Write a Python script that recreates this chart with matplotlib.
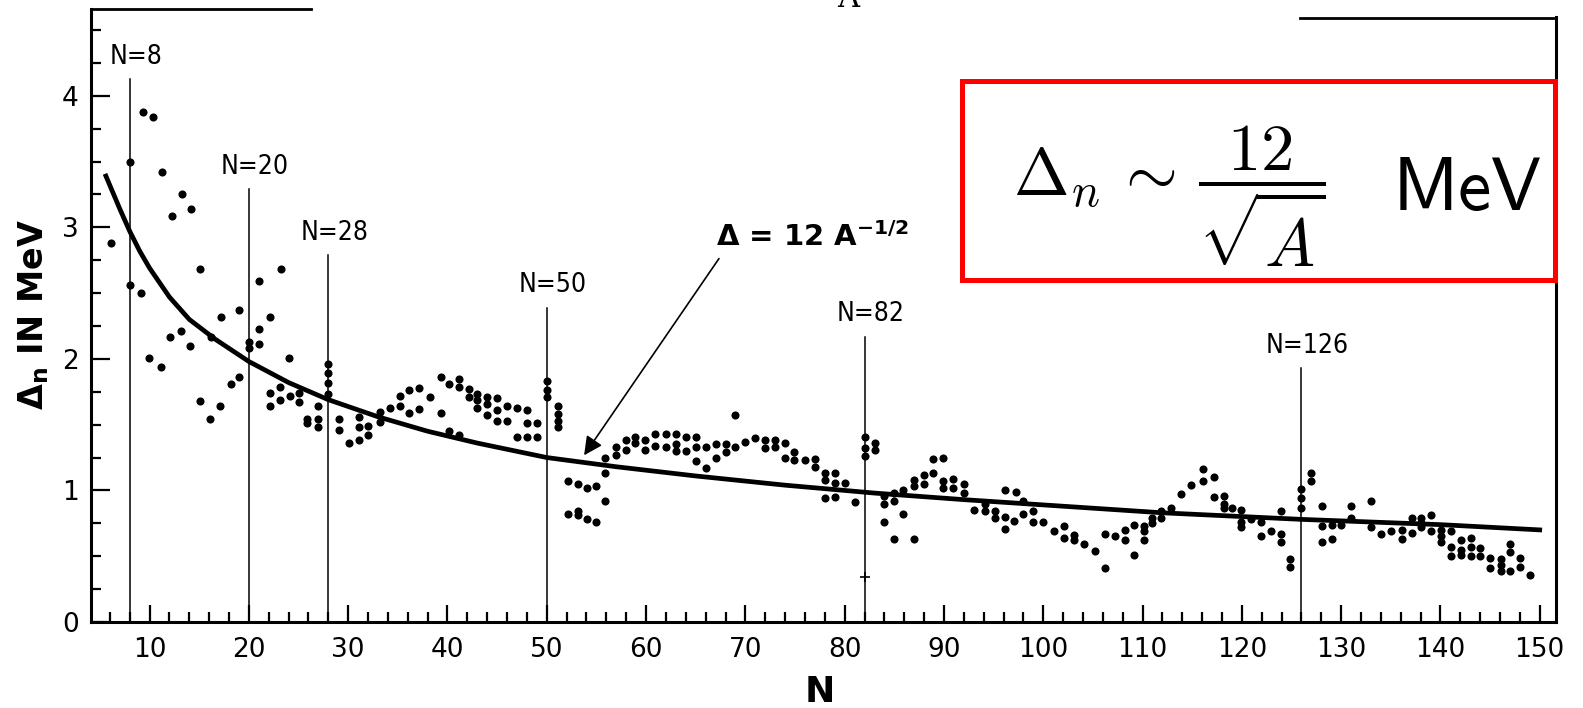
import matplotlib
matplotlib.use("Agg")
import matplotlib.pyplot as plt
from matplotlib.patches import Rectangle
from matplotlib.ticker import MultipleLocator

# neutron pairing gaps, split in three N ranges
n_light = [6.1, 8, 8, 9.1, 9.3, 9.9, 10.3, 11.1, 11.2, 12.1, 12.3, 13.2, 13.3, 14.1, 14.2,
           15.1, 15.1, 16.1, 16.2, 17.1, 17.2, 18.2, 19, 19, 20, 20, 21, 21, 21,
           22.1, 22.1, 22.1, 23.1, 23.1, 23.2, 24, 24.1, 25, 25, 25.9, 25.9, 27, 27, 27,
           28, 28, 28, 28, 29.1, 29.1, 30.1, 31.1, 31.1, 31.1, 32, 32, 33.2, 33.2, 34.2,
           35.2, 35.2, 36.1, 36.1, 37.1, 37.1, 38.2, 39.3, 39.3, 40.2, 40.2, 41.2, 41.2, 41.2,
           42.2, 42.2, 43, 43, 43, 44, 44, 44, 45, 45, 45, 46, 46, 47, 47, 48, 48, 48,
           49, 49, 50, 50, 50, 51.1, 51.1, 51.1, 51.1]
gap_light = [2.88, 3.50, 2.56, 2.50, 3.88, 2.01, 3.84, 1.94, 3.42, 2.17, 3.09, 2.21, 3.25, 2.10, 3.14,
             2.68, 1.68, 1.54, 2.17, 1.64, 2.32, 1.81, 2.37, 1.86, 2.13, 2.08, 2.59, 2.23, 2.11,
             2.32, 1.74, 1.64, 1.79, 1.69, 2.68, 2.01, 1.72, 1.74, 1.67, 1.54, 1.51, 1.64, 1.54, 1.48,
             1.96, 1.89, 1.82, 1.73, 1.54, 1.46, 1.36, 1.56, 1.48, 1.38, 1.49, 1.42, 1.60, 1.52, 1.63,
             1.72, 1.64, 1.76, 1.59, 1.78, 1.62, 1.71, 1.86, 1.59, 1.81, 1.45, 1.85, 1.79, 1.42,
             1.77, 1.71, 1.73, 1.69, 1.63, 1.71, 1.66, 1.57, 1.70, 1.61, 1.53, 1.64, 1.53, 1.63, 1.41,
             1.61, 1.51, 1.41, 1.51, 1.41, 1.83, 1.76, 1.71, 1.64, 1.58, 1.53, 1.48]

n_mid = [52.1, 52.1, 53.1, 53.1, 53.1, 54.1, 54.1, 55, 55, 55.9, 55.9, 55.9,
         57, 57, 58, 58, 58.9, 58.9, 59.9, 59.9, 60.9, 60.9, 62, 62, 63, 63, 63, 64, 64,
         65, 65, 65, 66, 66, 67, 67, 68, 68, 69, 69, 70, 71, 72, 72, 73, 73, 74, 74,
         74.9, 74.9, 76, 77, 77, 78, 78, 78, 79, 79, 79, 80, 81, 82, 82, 82,
         83.1, 83.1, 84, 84, 84, 85, 85, 85]
gap_mid = [1.07, 0.82, 1.05, 0.84, 0.81, 1.02, 0.78, 1.03, 0.76, 1.25, 1.13, 0.92,
           1.33, 1.27, 1.38, 1.31, 1.41, 1.36, 1.38, 1.31, 1.43, 1.34, 1.43, 1.33, 1.43, 1.35, 1.30, 1.41, 1.30,
           1.41, 1.33, 1.22, 1.33, 1.17, 1.35, 1.25, 1.35, 1.29, 1.57, 1.33, 1.37, 1.40, 1.38, 1.32, 1.38, 1.33, 1.36, 1.25,
           1.29, 1.23, 1.23, 1.24, 1.18, 1.13, 1.08, 0.94, 1.13, 1.06, 0.95, 1.06, 0.91, 1.41, 1.32, 1.26,
           1.36, 1.31, 0.96, 0.90, 0.76, 0.98, 0.92, 0.63]

n_heavy = [85.9, 85.9, 87, 87, 87, 88, 88, 88.9, 88.9, 89.9, 89.9, 89.9, 90.9, 90.9, 92, 92, 93,
           94.1, 94.1, 95.1, 95.1, 96.1, 96.1, 96.1, 97.3, 97.1, 98, 98, 99, 99, 100, 101.1,
           102.1, 102.1, 103.1, 103.1, 104.1, 105.2, 106.2, 106.2, 107.2, 108.2, 108.2, 109.1, 109.1,
           110.1, 110.1, 110.1, 111, 111, 111.9, 111.9, 112.9, 113.9, 114.9, 116.1, 116.1, 117.2, 117.2,
           118.2, 118.2, 118.2, 119, 119.9, 119.9, 119.9, 120.9, 121.9, 121.9, 122.9, 123.9, 123.9, 123.9,
           124.9, 124.9, 126, 126, 126, 127, 127, 128.1, 128.1, 128.1, 129.1, 129.1, 130, 131, 131,
           133, 133, 134, 135, 136.1, 136.1, 137.1, 137.1, 138, 138, 138, 139.1, 139.1,
           140.1, 140.1, 140.1, 141.1, 141.1, 141.1, 142.1, 142.1, 142.1, 143.1, 143.1, 143.1,
           144, 144, 145, 145, 146.1, 146.1, 146.1, 147, 147, 147, 148, 148, 149]
gap_heavy = [1.00, 0.82, 0.63, 1.08, 1.03, 1.12, 1.05, 1.24, 1.13, 1.25, 1.07, 1.02, 1.09, 1.02, 1.05, 0.98, 0.85,
             0.90, 0.84, 0.84, 0.79, 1.00, 0.80, 0.71, 0.99, 0.77, 0.92, 0.82, 0.84, 0.76, 0.76, 0.69,
             0.73, 0.64, 0.66, 0.62, 0.59, 0.54, 0.67, 0.41, 0.65, 0.70, 0.62, 0.74, 0.51,
             0.73, 0.69, 0.62, 0.79, 0.75, 0.84, 0.79, 0.87, 0.97, 1.04, 1.16, 1.07, 1.10, 0.95,
             0.96, 0.90, 0.87, 0.87, 0.85, 0.76, 0.72, 0.78, 0.76, 0.65, 0.69, 0.84, 0.67, 0.61,
             0.48, 0.42, 1.01, 0.94, 0.87, 1.13, 1.07, 0.88, 0.73, 0.61, 0.74, 0.63, 0.74, 0.88, 0.79,
             0.92, 0.72, 0.67, 0.69, 0.70, 0.63, 0.79, 0.68, 0.79, 0.75, 0.72, 0.81, 0.69,
             0.70, 0.65, 0.61, 0.69, 0.57, 0.50, 0.62, 0.55, 0.51, 0.64, 0.57, 0.50,
             0.56, 0.50, 0.49, 0.41, 0.48, 0.43, 0.39, 0.59, 0.53, 0.39, 0.49, 0.42, 0.36]

# the odd cross mark on the N=82 line
cross_n = [82]
cross_gap = [0.34]

# Delta = 12 A^-1/2 curve
curve_n = [5.6, 7, 8, 9, 10, 12, 14, 16.6, 20, 24, 28, 33, 38, 43, 50, 57, 65, 74, 83, 92,
           100, 112, 126, 140, 150]
curve_gap = [3.39, 3.14, 2.97, 2.82, 2.69, 2.47, 2.30, 2.15, 1.98, 1.82, 1.69, 1.56, 1.45, 1.36,
             1.25, 1.18, 1.11, 1.04, 0.98, 0.93, 0.89, 0.83, 0.78, 0.74, 0.70]

# magic numbers and how high their lines go
magic_n = [8, 20, 28, 50, 82, 126]
magic_top = [4.13, 3.29, 2.79, 2.39, 2.17, 1.93]

plt.rcParams['font.family'] = ['DejaVu Sans']

fig = plt.figure(figsize=(15.83, 7.08), dpi=100)
ax = fig.add_axes([0.0575, 0.1215, 0.9255, 0.8658])

for nn, gg in [(n_light, gap_light), (n_mid, gap_mid), (n_heavy, gap_heavy)]:
    ax.scatter(nn, gg, s=34, c='black', linewidths=0, zorder=3)
ax.plot(cross_n, cross_gap, ls='none', marker='+', ms=7, mew=1.2, color='black')

ax.plot(curve_n, curve_gap, color='black', lw=3.4, zorder=4)

for n, top in zip(magic_n, magic_top):
    ax.plot([n, n], [0, top], color='black', lw=1.1, zorder=2)
    ax.text(n + 0.6, top + 0.07, 'N=%d' % n, ha='center', va='bottom',
            fontsize=19, fontstretch='condensed')

# arrow + label for the fit
ax.annotate('', xy=(53.6, 1.25), xytext=(67.5, 2.78),
            arrowprops=dict(arrowstyle='-|>', lw=1.2, color='black', mutation_scale=28))
ax.text(67.0, 2.93, r'Δ = 12 A$^{\mathbf{-1/2}}$', fontsize=21, fontweight='bold',
        ha='left', va='center')

ax.set_xlim(4.1, 151.65)
ax.set_ylim(0, 4.66)
ax.xaxis.set_major_locator(MultipleLocator(10))
ax.xaxis.set_minor_locator(MultipleLocator(2))
ax.yaxis.set_major_locator(MultipleLocator(1))
ax.yaxis.set_minor_locator(MultipleLocator(0.25))
ax.tick_params(which='both', direction='in', width=1.6, labelsize=19)
ax.tick_params(axis='x', which='major', length=12, pad=11)
ax.tick_params(axis='x', which='minor', length=7)
ax.tick_params(axis='y', which='major', length=14, pad=9)
ax.tick_params(axis='y', which='minor', length=7)

for s in ['left', 'bottom', 'right']:
    ax.spines[s].set_linewidth(2.2)
ax.spines['right'].set_bounds(0, 4.60)
ax.spines['top'].set_visible(False)
# top border only survives at both ends of the scan
ax.plot([0, 0.15], [1, 1], transform=ax.transAxes, color='black', lw=2, clip_on=False)
ax.plot([0.825, 1.0], [0.985, 0.985], transform=ax.transAxes, color='black', lw=2, clip_on=False)

fig.text(0.021, 0.555, r'Δ$_\mathregular{n}$ IN MeV', rotation=90, fontsize=24,
         fontweight='bold', ha='center', va='center')
fig.text(0.518, 0.023, 'N', fontsize=26, fontweight='bold', ha='center', va='center')

# cut-off glyph at the very top of the scan
fig.text(0.536, 1 - 14 / 708, 'A', family='DejaVu Serif', fontsize=22, ha='center', va='bottom')

# red box with the approximate formula
fig.add_artist(Rectangle((0.6077, 0.6045), 0.3745, 0.2811, transform=fig.transFigure,
                         fill=False, edgecolor='red', lw=3.6))
fig.text(0.640, 0.722, r'$\Delta_n\,\sim\,\dfrac{12}{\sqrt{A}}$',
         math_fontfamily='cm', fontsize=48, ha='left', va='center')
fig.text(0.974, 0.7034, r'$\mathsf{MeV}$', math_fontfamily='cm', fontsize=54,
         ha='right', va='baseline')

fig.savefig('out.png', dpi=100)
